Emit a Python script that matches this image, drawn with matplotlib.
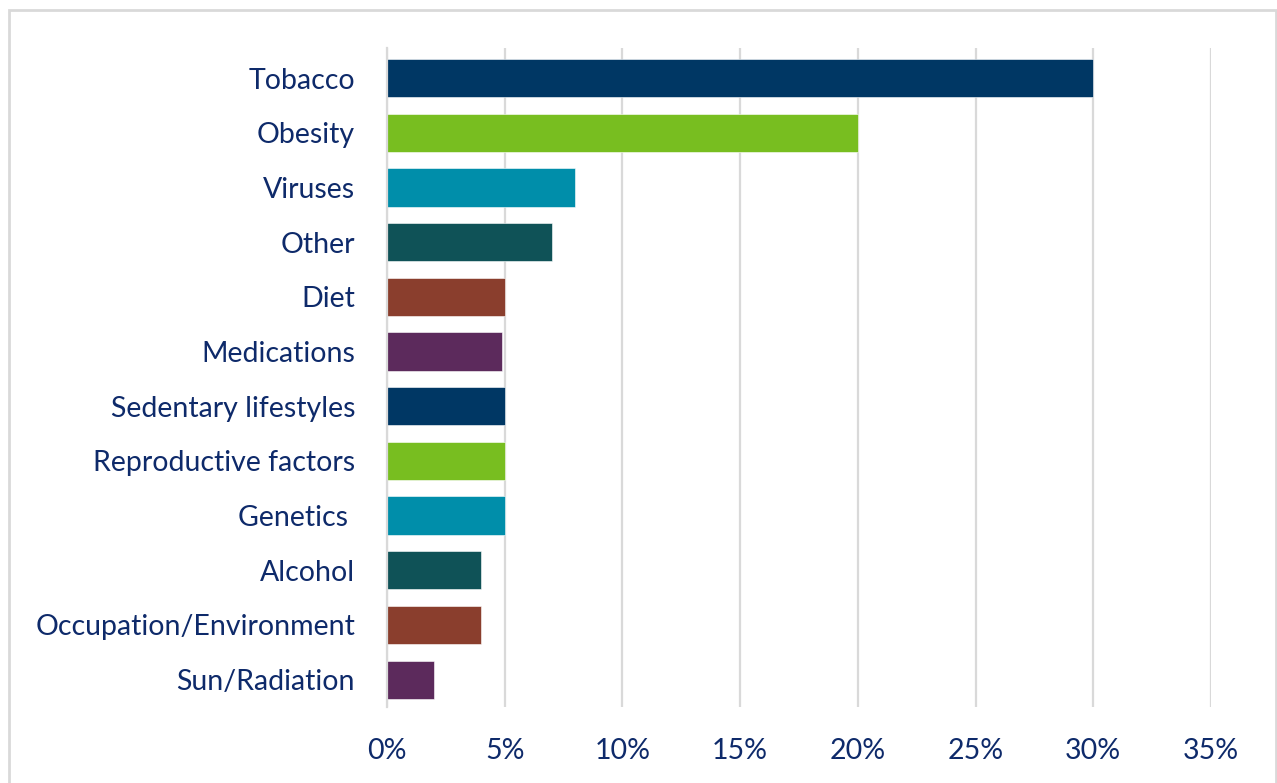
import matplotlib.pyplot as plt
from matplotlib.patches import Rectangle
from matplotlib.ticker import PercentFormatter

# data
factors = ["Tobacco", "Obesity", "Viruses", "Other", "Diet", "Medications",
           "Sedentary lifestyles", "Reproductive factors", "Genetics ",
           "Alcohol", "Occupation/Environment", "Sun/Radiation"]
shares = [30, 20, 8, 7, 5, 4.9, 5, 5, 5, 4, 4, 2]
palette = ["#003764", "#78be20", "#008eaa", "#0f5257", "#8a3e2d", "#5c2a5c"]
bar_colors = [palette[i % len(palette)] for i in range(len(factors))]

navy = "#0e2a6a"
grid = "#d9d9d9"

plt.rcParams["font.family"] = ["Lato", "DejaVu Sans"]

fig = plt.figure(figsize=(12.77, 7.83), dpi=100)
ax = fig.add_axes([387 / 1277, 1 - 707 / 783, (1211 - 387) / 1277, (707 - 48) / 783])

ypos = list(range(len(factors)))
ax.barh(ypos, shares, height=0.7, color=bar_colors, edgecolor="white", linewidth=0.4, zorder=3)

ax.set_xlim(0, 35)
ax.set_ylim(11.5, -0.55)
ax.set_xticks(range(0, 36, 5))
ax.xaxis.set_major_formatter(PercentFormatter(decimals=0))
ax.set_yticks(ypos)
ax.set_yticklabels(factors)

ax.tick_params(axis="both", length=0, labelsize=20.5, labelcolor=navy)
ax.tick_params(axis="y", pad=23)
ax.tick_params(axis="x", pad=22)

ax.grid(axis="x", color=grid, linewidth=1.6, zorder=0)
for side in ["top", "right", "bottom"]:
    ax.spines[side].set_visible(False)
ax.spines["left"].set_color(grid)
ax.spines["left"].set_linewidth(1.6)
ax.spines["left"].set_zorder(4)

# outer frame
fig.patches.append(Rectangle((9 / 1277, -0.01), 1267 / 1277, 1 - 10 / 783 + 0.01,
                             transform=fig.transFigure, fill=False,
                             edgecolor=grid, linewidth=2))

fig.savefig("out.png", dpi=100)
